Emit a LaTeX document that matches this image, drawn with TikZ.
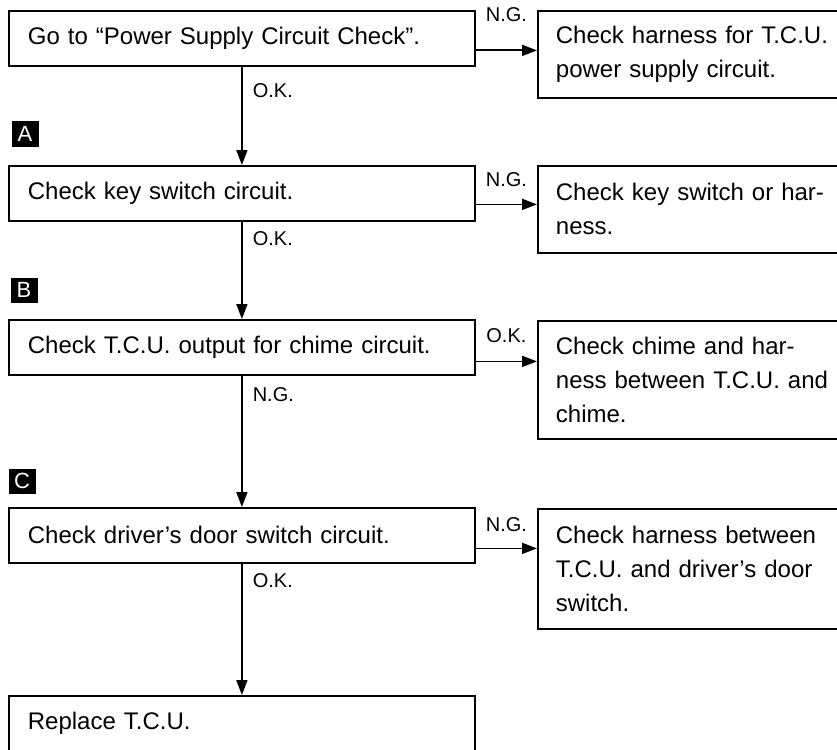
\documentclass[tikz,border=0pt]{standalone}
\usepackage{fontspec}
\setmainfont{Liberation Sans}
\usetikzlibrary{arrows.meta}

\begin{document}
\begin{tikzpicture}[x=1pt,y=-1pt,line width=1.8pt,
    stepbox/.style={draw,rectangle,anchor=north west,align=left,
      text width=428pt,inner xsep=19pt,inner ysep=0pt,minimum height=55pt,
      font=\fontsize{24}{34}\selectfont},
    fixbox/.style={draw,rectangle,anchor=north west,align=left,
      text width=282pt,inner xsep=18pt,inner ysep=0pt,
      font=\fontsize{24}{34}\selectfont},
    letterbox/.style={fill=black,text=white,minimum width=27pt,
      minimum height=25pt,inner sep=0pt,font=\fontsize{22}{22}\selectfont},
    tag/.style={font=\fontsize{20}{24}\selectfont,inner sep=0pt},
    arr/.style={-{Triangle[width=11pt,length=15pt]}}]
  \useasboundingbox (0,0) rectangle (837,749);
  \clip (0,0) rectangle (837,749);
  % left column
  \node[stepbox] (go)   at (8,10)  {Go to ``Power Supply Circuit Check''.};
  \node[stepbox] (key)  at (8,165) {Check key switch circuit.};
  \node[stepbox] (tcu)  at (8,319) {Check T.C.U. output for chime circuit.};
  \node[stepbox] (door) at (8,507) {Check driver’s door switch circuit.};
  \node[stepbox,minimum height=0pt,inner ysep=17pt,text height=17pt,
    text depth=40pt] (repl) at (8,695) {Replace T.C.U.};
  % right column
  \node[fixbox,minimum height=87pt]  (fixgo)   at (537,10)
    {Check harness for T.C.U.\\power supply circuit.};
  \node[fixbox,minimum height=87pt]  (fixkey)  at (537,165)
    {Check key switch or har-\\ness.};
  \node[fixbox,minimum height=118pt] (fixtcu)  at (537,320)
    {Check chime and har-\\ness between T.C.U. and\\chime.};
  \node[fixbox,minimum height=120pt] (fixdoor) at (537,508)
    {Check harness between\\T.C.U. and driver's door\\switch.};
  % step markers
  \foreach \m/\x/\y in {A/25/134,B/24/290,C/22/481}
    \node[letterbox] (mark\m) at (\x,\y) {\m};
  % down the column
  \foreach \a/\b/\t/\d in {go/key/O.K./24,key/tcu/O.K./17,
                           tcu/door/N.G./19,door/repl/O.K./17}
    \draw[arr] (\a.south) -- node[tag,pos=0,anchor=west,xshift=10pt,
      yshift=-\d pt] (down\a) {\t} (\b.north);
  % across to the right
  \foreach \a/\t/\o/\d in {go/N.G./12/36,key/N.G./11/25,
                           tcu/O.K./14/26,door/N.G./13/24}
    \draw[arr] ([yshift=-\o pt]\a.east) -- ([yshift=-\o pt]\a.east -| fix\a.west)
      node[tag,midway,yshift=\d pt] (side\a) {\t};
\end{tikzpicture}
\end{document}
